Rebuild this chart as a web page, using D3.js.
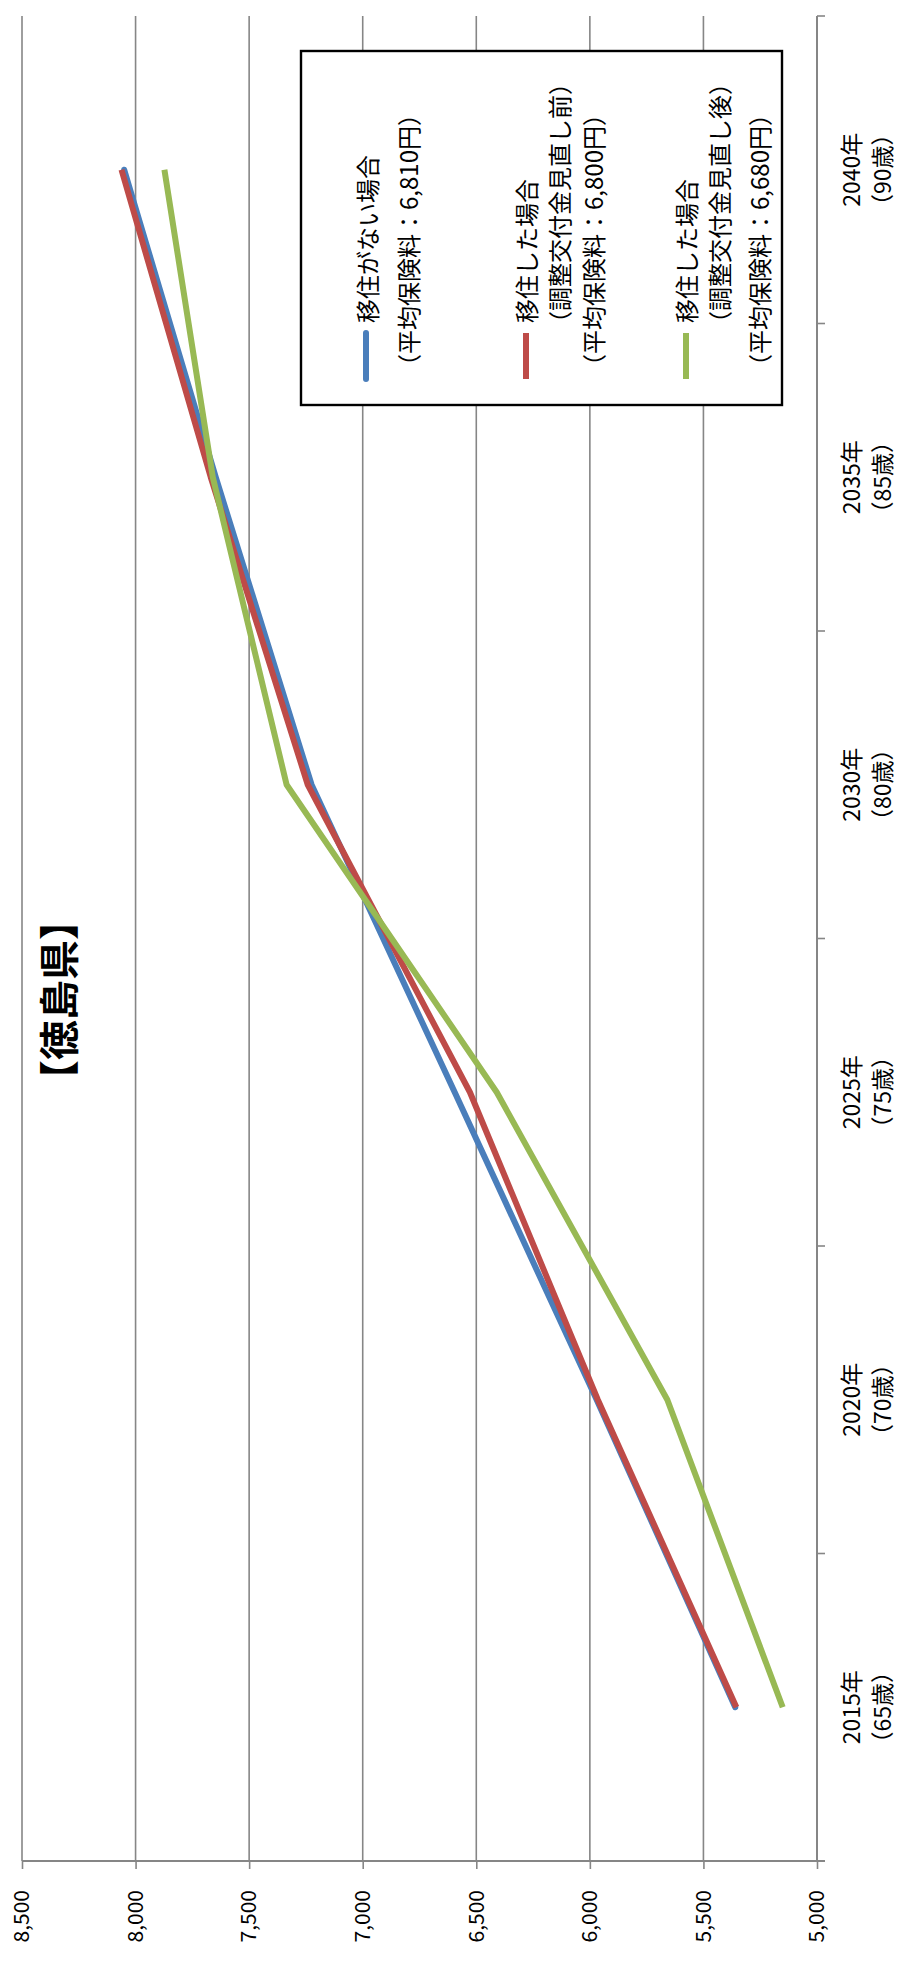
<!DOCTYPE html>
<html>
<head>
<meta charset="utf-8">
<script src="https://cdn.jsdelivr.net/npm/d3@7"></script>
<style>
  body { margin: 0; background: #fff; }
  svg { display: block; }
  text { font-family: "Noto Sans CJK JP", "Noto Sans", sans-serif; fill: #000; }
</style>
</head>
<body>
<script>
// ---- data ----
const years = ["2015年", "2020年", "2025年", "2030年", "2035年", "2040年"];
const ages = ["（65歳）", "（70歳）", "（75歳）", "（80歳）", "（85歳）", "（90歳）"];

// average premium (yen / month)
const noMove      = [5360, 5970, 6595, 7225, 7647, 8050];
const movedBefore = [5355, 5965, 6528, 7242, 7669, 8062];
const movedAfter  = [5151, 5659, 6410, 7335, 7660, 7873];

const valueTicks = [5000, 5500, 6000, 6500, 7000, 7500, 8000, 8500];

const seriesLabels = [
  ["移住がない場合", "（平均保険料：6,810円）"],
  ["移住した場合", "（調整交付金見直し前）", "（平均保険料：6,800円）"],
  ["移住した場合", "（調整交付金見直し後）", "（平均保険料：6,680円）"]
];
const seriesColors = ["#4A7EBB", "#BE4B48", "#98B954"];
const titleText = "【徳島県】";

// ---- layout ----
const W = 898, H = 1962;
const svg = d3.select("body").append("svg").attr("width", W).attr("height", H);
svg.append("rect").attr("width", W).attr("height", H).attr("fill", "#fff");

// The chart is drawn on its side: local x runs up the page, local y runs across it.
const g = svg.append("g").attr("transform", `translate(0,${H}) rotate(-90)`);

const plot = { left: 101, right: 1946, top: 22, bottom: 817 };
const x = d3.scaleBand().domain(years).range([plot.left, plot.right]);
const y = d3.scaleLinear().domain([5000, 8500]).range([plot.bottom, plot.top]);
const cx = d => x(d) + x.bandwidth() / 2;
const gridColor = "#868686";

// horizontal gridlines
g.append("g").selectAll("line").data(valueTicks).join("line")
  .attr("x1", plot.left).attr("x2", plot.right)
  .attr("y1", d => y(d)).attr("y2", d => y(d))
  .attr("stroke", gridColor).attr("stroke-width", 1.6);

// value axis
const yAxis = g.append("g").attr("transform", `translate(${plot.left},0)`)
  .call(d3.axisLeft(y).tickValues(valueTicks).tickSize(8).tickSizeOuter(0)
    .tickPadding(21).tickFormat(d3.format(",")));
yAxis.select(".domain").remove();
yAxis.selectAll(".tick line").attr("stroke", gridColor).attr("stroke-width", 1.6);
yAxis.selectAll(".tick text").attr("font-size", 21)
  .attr("font-family", "'Noto Sans CJK JP', sans-serif").attr("fill", "#000");
g.append("line")
  .attr("x1", plot.left).attr("x2", plot.left)
  .attr("y1", plot.top).attr("y2", plot.bottom + 8)
  .attr("stroke", gridColor).attr("stroke-width", 2);

// category axis
g.append("line")
  .attr("x1", plot.left).attr("x2", plot.right)
  .attr("y1", plot.bottom).attr("y2", plot.bottom)
  .attr("stroke", gridColor).attr("stroke-width", 2);
const bounds = years.map(d => x(d)).concat([x(years[years.length - 1]) + x.bandwidth()]);
g.append("g").selectAll("line").data(bounds).join("line")
  .attr("x1", d => d).attr("x2", d => d)
  .attr("y1", plot.bottom).attr("y2", plot.bottom + 8)
  .attr("stroke", gridColor).attr("stroke-width", 1.6);
const catLabels = g.append("g").selectAll("g").data(years).join("g")
  .attr("transform", d => `translate(${cx(d)},0)`);
catLabels.append("text").attr("y", 850).attr("text-anchor", "middle")
  .attr("dominant-baseline", "central").attr("font-size", 23).text(d => d);
catLabels.append("text").attr("y", 881).attr("text-anchor", "middle")
  .attr("dominant-baseline", "central").attr("font-size", 23)
  .text((d, i) => ages[i]);

// series lines
const line = d3.line().x((d, i) => cx(years[i])).y(d => y(d));
[noMove, movedBefore, movedAfter].forEach((s, i) => {
  g.append("path").datum(s)
    .attr("d", line)
    .attr("fill", "none")
    .attr("stroke", seriesColors[i])
    .attr("stroke-width", 6)
    .attr("stroke-linejoin", "round")
    .attr("stroke-linecap", i === 0 ? "round" : "butt");
});

// legend
const legend = g.append("g");
legend.append("rect")
  .attr("x", 1557).attr("y", 301).attr("width", 354).attr("height", 481)
  .attr("fill", "#fff").attr("stroke", "#000").attr("stroke-width", 2.4);
const entryRows = [
  [{ y: 366, x: 1639 }, { y: 407, x: 1584 }],
  [{ y: 525, x: 1639 }, { y: 558, x: 1627 }, { y: 592, x: 1584 }],
  [{ y: 685, x: 1639 }, { y: 718, x: 1627 }, { y: 758, x: 1584 }]
];
const symbolY = [366, 526, 686];
seriesLabels.forEach((lines, i) => {
  legend.append("line")
    .attr("x1", 1583).attr("x2", 1629)
    .attr("y1", symbolY[i]).attr("y2", symbolY[i])
    .attr("stroke", seriesColors[i]).attr("stroke-width", 6)
    .attr("stroke-linecap", i === 0 ? "round" : "butt");
  lines.forEach((t, j) => {
    legend.append("text")
      .attr("x", entryRows[i][j].x).attr("y", entryRows[i][j].y)
      .attr("dominant-baseline", "central")
      .attr("font-size", 24).text(t);
  });
});

// title
g.append("text")
  .attr("x", 962).attr("y", 57)
  .attr("text-anchor", "middle").attr("dominant-baseline", "central")
  .attr("font-size", 40).attr("font-weight", 700)
  .text(titleText);
</script>
</body>
</html>
